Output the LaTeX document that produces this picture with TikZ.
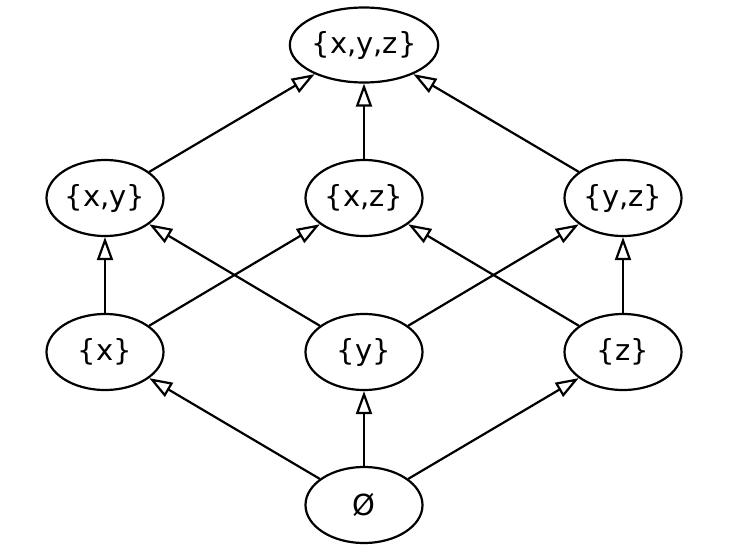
\documentclass[tikz,border=0pt]{standalone}
\usepackage{fontspec}
\setmainfont{DejaVu Sans}
\usetikzlibrary{shapes.geometric,arrows.meta}
\begin{document}
\begin{tikzpicture}[x=1pt,y=-1pt,
  setnode/.style={draw,ellipse,line width=2.2pt,inner sep=0pt,minimum width=117pt,minimum height=76pt,font=\fontsize{29}{34}\selectfont},
  topnode/.style={setnode,minimum width=133pt,minimum height=75pt},
  edge/.style={line width=2.2pt,-{Triangle[open,length=23pt,width=16pt,line width=2.2pt]}}]
\useasboundingbox (0,0) rectangle (730,552);
\node[topnode] (xyz) at (364,45) {\{x,y,z\}};
\node[setnode] (xy) at (105,198) {\{x,y\}};
\node[setnode] (xz) at (364,198) {\{x,z\}};
\node[setnode] (yz) at (623,198) {\{y,z\}};
\node[setnode] (x) at (105,352) {\{x\}};
\node[setnode] (y) at (364,352) {\{y\}};
\node[setnode] (z) at (623,352) {\{z\}};
\node[setnode] (e) at (364,505) {Ø};
\draw[edge] (xy) -- (xyz);
\draw[edge] (xz) -- (xyz);
\draw[edge] (yz) -- (xyz);
\draw[edge] (x) -- (xy);
\draw[edge] (y) -- (xy);
\draw[edge] (x) -- (xz);
\draw[edge] (z) -- (xz);
\draw[edge] (y) -- (yz);
\draw[edge] (z) -- (yz);
\draw[edge] (e) -- (x);
\draw[edge] (e) -- (y);
\draw[edge] (e) -- (z);
\end{tikzpicture}
\end{document}
